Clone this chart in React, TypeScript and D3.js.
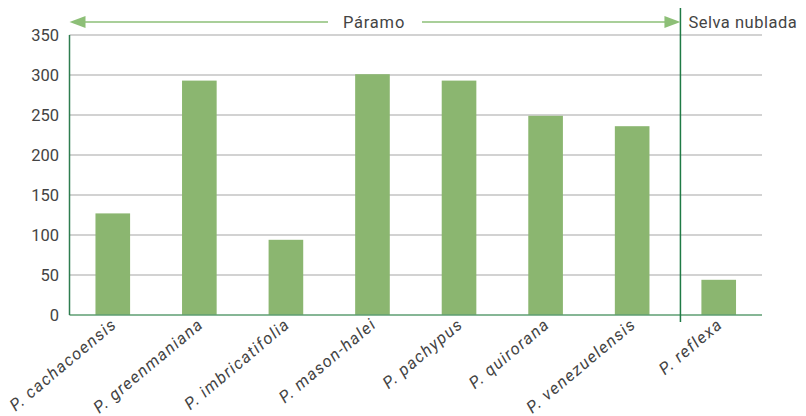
import React from "react";
import * as d3 from "d3";

const categories = [
  "P. cachacoensis",
  "P. greenmaniana",
  "P. imbricatifolia",
  "P. mason-halei",
  "P. pachypus",
  "P. quirorana",
  "P. venezuelensis",
  "P. reflexa",
];
const values = [127, 293, 94, 301, 293, 249, 236, 44];
const yTicks = [0, 50, 100, 150, 200, 250, 300, 350];
const regionLeft = "Páramo";
const regionRight = "Selva nublada";

const W = 806;
const H = 416;
const left = 69.5;
const right = 762;
const top = 35;
const bottom = 315;

export default function App() {
  const x = d3
    .scaleBand<string>()
    .domain(categories)
    .range([left, right])
    .paddingInner(0.6)
    .paddingOuter(0.3);
  const y = d3.scaleLinear().domain([0, 350]).range([bottom, top]);
  const sepX =
    (x(categories[6])! + x.bandwidth() / 2 + x(categories[7])! + x.bandwidth() / 2) / 2 + 5;
  const font = "Roboto, 'Noto Sans', sans-serif";
  const arrowColor = "#8dbf77";
  const arrowY = 22;
  return (
    <svg
      width={W}
      height={H}
      style={{ position: "absolute", left: 0, top: 0, background: "#fff" }}
      fontFamily={font}
    >
      {yTicks.map((t) => (
        <g key={t}>
          {t > 0 && (
            <line x1={left} x2={right} y1={y(t)} y2={y(t)} stroke="#a6a6a6" strokeWidth={1.2} />
          )}
          <text x={59} y={y(t)} dy="0.35em" textAnchor="end" fontSize={16.5} fill="#444">
            {t}
          </text>
        </g>
      ))}
      {categories.map((c, i) => (
        <rect
          key={c}
          x={x(c)}
          y={y(values[i])}
          width={x.bandwidth()}
          height={y(0) - y(values[i])}
          fill="#8bb670"
        />
      ))}
      <line x1={left} x2={right} y1={bottom} y2={bottom} stroke="#5e9e72" strokeWidth={1.5} />
      <line x1={left} x2={left} y1={top} y2={bottom} stroke="#2e7d4f" strokeWidth={1.5} />
      <line x1={sepX} x2={sepX} y1={8} y2={322} stroke="#1f7a45" strokeWidth={1.5} />
      {categories.map((c) => {
        const cx = x(c)! + x.bandwidth() / 2 + 5;
        const cy = 326;
        return (
          <text
            key={c}
            transform={`translate(${cx},${cy}) rotate(-40)`}
            textAnchor="end"
            fontSize={16.5}
            letterSpacing={1.3}
            fontStyle="italic"
            fill="#444"
          >
            {c}
          </text>
        );
      })}
      <line x1={left + 8} x2={328} y1={arrowY} y2={arrowY} stroke={arrowColor} strokeWidth={1.5} />
      <path
        d={`M${left},${arrowY} L${left + 16},${arrowY - 6} L${left + 16},${arrowY + 6} Z`}
        fill={arrowColor}
      />
      <text
        x={374}
        y={arrowY}
        dy="0.35em"
        textAnchor="middle"
        fontSize={16.5}
        letterSpacing={0.8}
        fill="#444"
      >
        {regionLeft}
      </text>
      <line x1={422} x2={sepX - 8} y1={arrowY} y2={arrowY} stroke={arrowColor} strokeWidth={1.5} />
      <path
        d={`M${sepX},${arrowY} L${sepX - 16},${arrowY - 6} L${sepX - 16},${arrowY + 6} Z`}
        fill={arrowColor}
      />
      <text x={sepX + 8} y={arrowY} dy="0.35em" fontSize={16.5} letterSpacing={0.5} fill="#444">
        {regionRight}
      </text>
    </svg>
  );
}
